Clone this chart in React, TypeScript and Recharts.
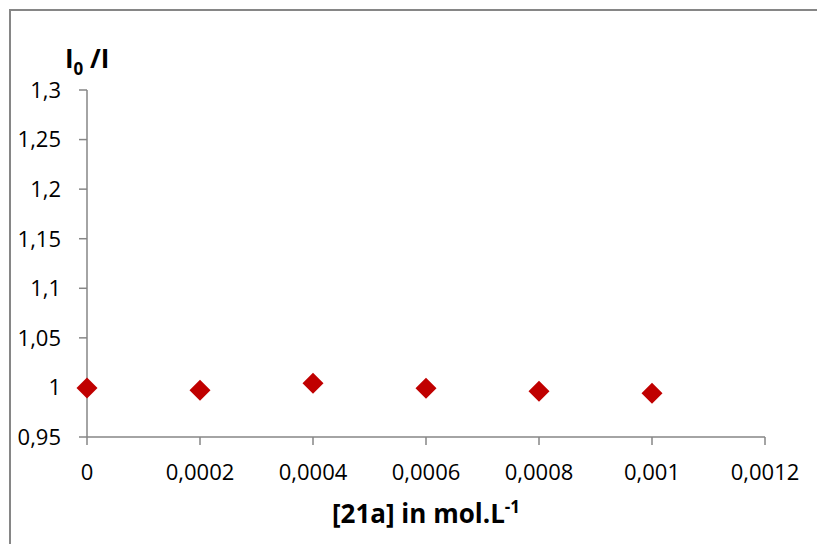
import React from "react";
import {
  ScatterChart,
  Scatter,
  XAxis,
  YAxis,
  Label,
} from "recharts";

// concentration of 21a (mol/L) and measured I0/I
const concentrations = [0, 0.0002, 0.0004, 0.0006, 0.0008, 0.001];
const ratios = [0.9995, 0.9971, 1.0042, 0.9991, 0.9961, 0.9941];

const xTicks = [0, 0.0002, 0.0004, 0.0006, 0.0008, 0.001, 0.0012];
const yTicks = [0.95, 1, 1.05, 1.1, 1.15, 1.2, 1.25, 1.3];

const FONT = "'Open Sans', sans-serif";
const AXIS = "#868686";

const points = concentrations.map((x, i) => ({ x, y: ratios[i] }));

const fmt = (v: number) => String(v).replace(".", ",");

// excel style diamond marker
const Diamond = (props: any) => {
  const { cx, cy } = props;
  const r = 10.5;
  return (
    <polygon
      points={`${cx},${cy - r} ${cx + r},${cy} ${cx},${cy + r} ${cx - r},${cy}`}
      fill="#C00000"
    />
  );
};

export default function App() {
  return (
    <div
      style={{
        position: "fixed",
        left: 0,
        top: 0,
        width: 817,
        height: 544,
        overflow: "hidden",
        background: "#fff",
      }}
    >
      {/* chart frame: only top and left edges are in view */}
      <div style={{ position: "absolute", left: 9, top: 9, width: 808, height: 2, background: AXIS }} />
      <div style={{ position: "absolute", left: 9, top: 9, width: 2, height: 535, background: AXIS }} />
      <div style={{ position: "absolute", left: 10, top: 10 }}>
        <ScatterChart
          width={800}
          height={534}
          margin={{ top: 80, right: 45, left: 0, bottom: 66 }}
          style={{ fontFamily: FONT }}
        >
          <XAxis
            type="number"
            dataKey="x"
            domain={[0, 0.0012]}
            ticks={xTicks}
            tickFormatter={fmt}
            stroke={AXIS}
            strokeWidth={1.5}
            tickSize={8}
            tickMargin={19}
            tick={{ fill: "#000", fontSize: 22 }}
            height={41}
          >
            <Label
              content={({ viewBox }: any) => (
                <text
                  x={viewBox.x + viewBox.width / 2}
                  y={513}
                  textAnchor="middle"
                  fontSize={26}
                  fontWeight="bold"
                  fill="#000"
                >
                  [21a] in mol.L
                  <tspan fontSize={17} dy={-10}>
                    -1
                  </tspan>
                </text>
              )}
            />
          </XAxis>
          <YAxis
            type="number"
            dataKey="y"
            domain={[0.95, 1.3]}
            ticks={yTicks}
            tickFormatter={fmt}
            stroke={AXIS}
            strokeWidth={1.5}
            tickSize={8}
            tickMargin={18}
            tick={{ fill: "#000", fontSize: 22 }}
            width={77}
          >
            <Label
              content={() => (
                <text x={55} y={58} fontSize={26} fontWeight="bold" fill="#000">
                  I
                  <tspan fontSize={17} dy={7}>
                    0
                  </tspan>
                  <tspan dy={-7}> /I</tspan>
                </text>
              )}
            />
          </YAxis>
          <Scatter
            data={points}
            shape={<Diamond />}
            isAnimationActive={false}
          />
        </ScatterChart>
      </div>
    </div>
  );
}
